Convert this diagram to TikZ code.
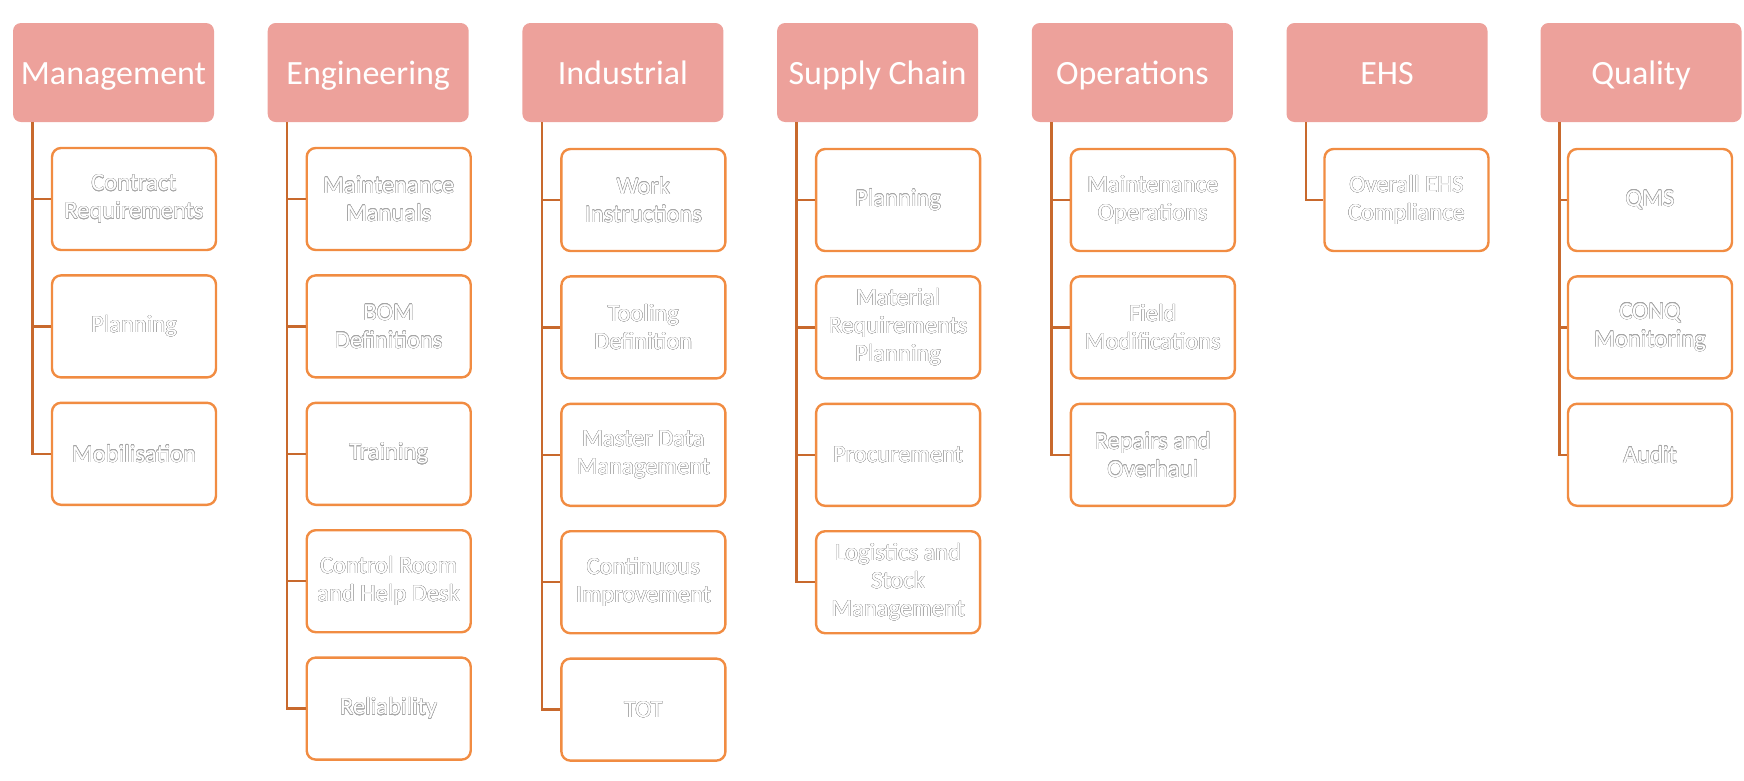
\documentclass[tikz,border=0pt]{standalone}
\usepackage{fontspec}
\setmainfont{Carlito}
\usepackage[copies]{contour}
\contourlength{0.3pt}
\contournumber{16}
\definecolor{hdrfill}{RGB}{237,161,155}
\definecolor{boxline}{RGB}{241,140,66}
\definecolor{connline}{RGB}{200,105,45}
\definecolor{txtline}{RGB}{165,165,165}
\newcommand\ot[1]{\contour{txtline}{#1}}
\tikzset{
  hdr/.style={fill=hdrfill, rounded corners=8pt, minimum width=201pt, minimum height=99pt,
    inner sep=0pt, text=white, font=\fontsize{34}{40}\selectfont,
    text height=26pt, text depth=3pt},
  kid/.style={draw=boxline, line width=2.4pt, fill=white, rounded corners=9pt,
    minimum width=164pt, minimum height=102pt, inner sep=0pt, align=center,
    text=white, font=\fontsize{24.5}{28}\selectfont},
  conn/.style={draw=connline, line width=2.4pt}
}
\begin{document}
\begin{tikzpicture}[x=1pt,y=-1pt]
\useasboundingbox (0,0) rectangle (1744,780);
% headers
\node[hdr] (hm) at (113.5,72.5) {Management};
\node[hdr] (he) at (368.2,72.5) {Engineering};
\node[hdr] (hi) at (622.9,72.5) {Industrial};
\node[hdr] (hs) at (877.6,72.5) {Supply Chain};
\node[hdr] (ho) at (1132.3,72.5) {Operations};
\node[hdr] (hh) at (1387,72.5) {EHS};
\node[hdr] (hq) at (1641,72.5) {Quality};
% connector anchors
\coordinate (lm) at (32.5,122);
\coordinate (le) at (287.2,122);
\coordinate (li) at (541.9,122);
\coordinate (ls) at (796.6,122);
\coordinate (lo) at (1051.3,122);
\coordinate (lh) at (1306,122);
\coordinate (lq) at (1559.5,122);
% Management
\node[kid] (m1) at (134,199) {\ot{Contract}\\\ot{Requirements}};
\node[kid] (m2) at (134,326.4) {\ot{Planning}};
\node[kid] (m3) at (134,453.8) {\ot{Mobilisation}};
% Engineering
\node[kid] (e1) at (388.7,199) {\ot{Maintenance}\\\ot{Manuals}};
\node[kid] (e2) at (388.7,326.4) {\ot{BOM}\\\ot{Definitions}};
\node[kid] (e3) at (388.7,453.8) {\ot{Training}};
\node[kid] (e4) at (388.7,581.2) {\ot{Control Room}\\\ot{and Help Desk}};
\node[kid] (e5) at (388.7,708.6) {\ot{Reliability}};
% Industrial
\node[kid] (i1) at (643.4,200) {\ot{Work}\\\ot{Instructions}};
\node[kid] (i2) at (643.4,327.4) {\ot{Tooling}\\\ot{Definition}};
\node[kid] (i3) at (643.4,454.8) {\ot{Master Data}\\\ot{Management}};
\node[kid] (i4) at (643.4,582.2) {\ot{Continuous}\\\ot{Improvement}};
\node[kid] (i5) at (643.4,709.6) {\ot{TOT}};
% Supply Chain
\node[kid] (s1) at (898.1,200) {\ot{Planning}};
\node[kid] (s2) at (898.1,327.4) {\ot{Material}\\\ot{Requirements}\\\ot{Planning}};
\node[kid] (s3) at (898.1,454.8) {\ot{Procurement}};
\node[kid] (s4) at (898.1,582.2) {\ot{Logistics and}\\\ot{Stock}\\\ot{Management}};
% Operations
\node[kid] (o1) at (1152.8,200) {\ot{Maintenance}\\\ot{Operations}};
\node[kid] (o2) at (1152.8,327.4) {\ot{Field}\\\ot{Modifications}};
\node[kid] (o3) at (1152.8,454.8) {\ot{Repairs and}\\\ot{Overhaul}};
% EHS
\node[kid] (h1) at (1406.5,200) {\ot{Overall EHS}\\\ot{Compliance}};
% Quality
\node[kid] (q1) at (1650,200) {\ot{QMS}};
\node[kid] (q2) at (1650,327.4) {\ot{CONQ}\\\ot{Monitoring}};
\node[kid] (q3) at (1650,454.8) {\ot{Audit}};
% connectors
\foreach \c in {m1,m2,m3} \draw[conn] (lm) |- (\c.west);
\foreach \c in {e1,e2,e3,e4,e5} \draw[conn] (le) |- (\c.west);
\foreach \c in {i1,i2,i3,i4,i5} \draw[conn] (li) |- (\c.west);
\foreach \c in {s1,s2,s3,s4} \draw[conn] (ls) |- (\c.west);
\foreach \c in {o1,o2,o3} \draw[conn] (lo) |- (\c.west);
\draw[conn] (lh) |- (h1.west);
\foreach \c in {q1,q2,q3} \draw[conn] (lq) |- (\c.west);
\end{tikzpicture}
\end{document}
